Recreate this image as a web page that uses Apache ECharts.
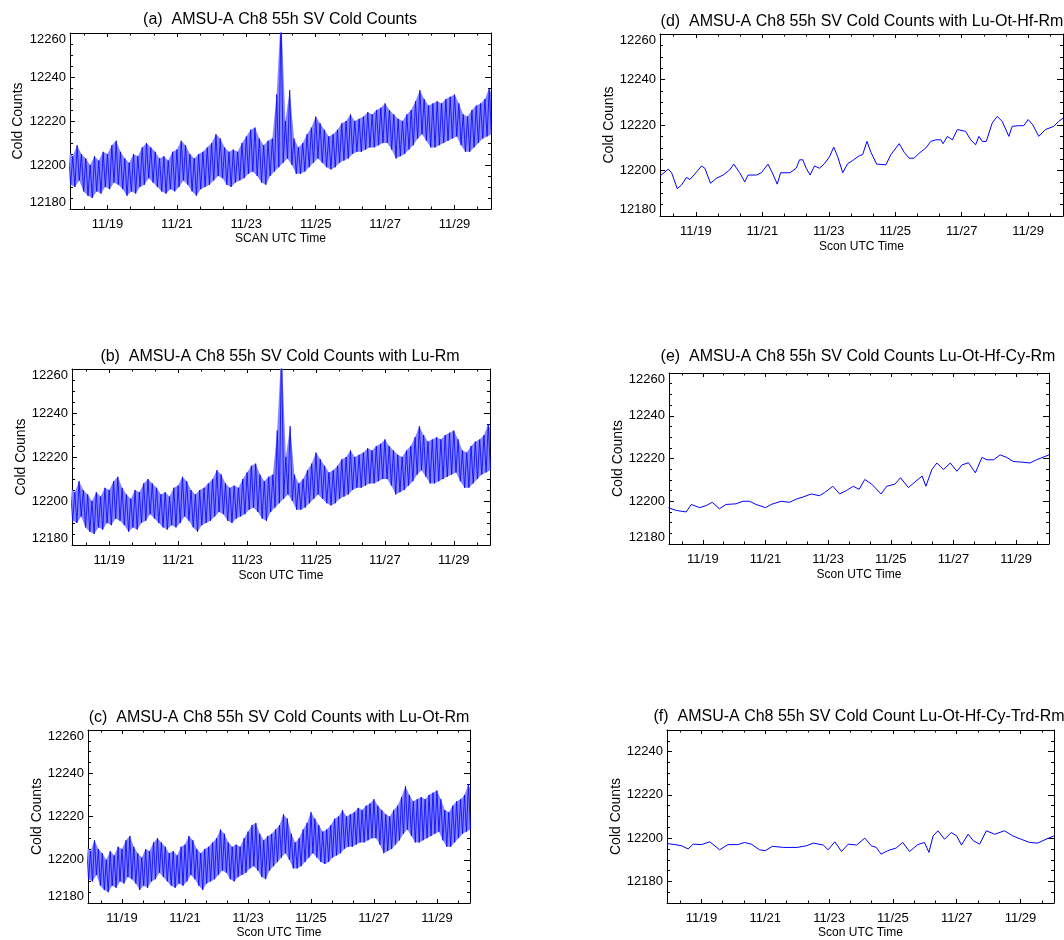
<!DOCTYPE html>
<html><head><meta charset="utf-8">
<script src="https://cdn.jsdelivr.net/npm/echarts@6/dist/echarts.min.js"></script>
<style>html,body{margin:0;padding:0;background:#fff}#c{width:1064px;height:940px}</style>
</head><body><div id="c"></div>
<script>
// ---------- tick labels ----------
const xTickDays = [19, 21, 23, 25, 27, 29];
const xTickLabels = ['11/19', '11/21', '11/23', '11/25', '11/27', '11/29'];
const xMinorDays = [18 + 1/3, 19 + 2/3, 20 + 1/3, 21 + 2/3, 22 + 1/3, 23 + 2/3, 24 + 1/3, 25 + 2/3, 26 + 1/3, 27 + 2/3, 28 + 1/3, 29 + 2/3];
const yTicks = [12180, 12200, 12220, 12240, 12260];
const yTicksF = [12180, 12200, 12220, 12240];

// ---------- raw counts (a)/(b)/(c): upper / lower swing of each 3-hour sample (day of November) ----------
const rawStartDay = 17.875;   // first sample
const rawStepDay = 0.125;     // 3-hour sampling
const aHi = [12206,12204,12209,12205,12203,12200,12204,12202,12206,12205,
  12209,12211,12206,12203,12201,12205,12204,12208,12210,12208,
  12206,12203,12204,12202,12206,12207,12211,12209,12205,12203,
  12205,12206,12208,12210,12214,12212,12208,12206,12207,12206,
  12210,12213,12216,12217,12212,12209,12211,12212,12232,12270,
  12220,12234,12212,12208,12210,12214,12217,12222,12219,12216,
  12213,12214,12216,12219,12220,12223,12220,12221,12222,12224,
  12223,12225,12226,12228,12225,12223,12221,12220,12223,12225,
  12229,12234,12230,12227,12228,12229,12228,12230,12231,12232,
  12228,12223,12222,12225,12227,12228,12230,12235,12230];
const aLo = [12191,12190,12193,12188,12186,12185,12188,12187,12190,12189,
  12192,12191,12189,12186,12188,12187,12190,12191,12194,12192,
  12190,12188,12187,12189,12188,12190,12193,12191,12188,12186,
  12189,12190,12191,12193,12195,12194,12191,12190,12192,12193,
  12194,12196,12197,12195,12192,12191,12195,12197,12199,12201,
  12203,12200,12196,12196,12197,12199,12201,12203,12201,12199,
  12198,12199,12201,12202,12203,12205,12206,12206,12207,12208,
  12208,12209,12210,12210,12207,12203,12204,12205,12207,12209,
  12212,12214,12211,12208,12208,12209,12210,12211,12212,12213,
  12209,12206,12206,12208,12210,12212,12213,12214,12214];
// (b) Lu-Rm is visually identical to (a)
const bHi = aHi;
const bLo = aLo;
// (c) outliers removed around 11/24
const cHi = [12206,12204,12209,12205,12203,12200,12204,12202,12206,12205,
  12209,12211,12206,12203,12201,12205,12204,12208,12210,12208,
  12206,12203,12204,12202,12206,12207,12211,12209,12205,12203,
  12205,12206,12208,12210,12214,12212,12208,12206,12207,12206,
  12210,12213,12216,12217,12212,12209,12211,12212,12214,12216,
  12221,12219,12212,12208,12210,12214,12217,12222,12219,12216,
  12213,12214,12216,12219,12220,12223,12220,12221,12222,12224,
  12223,12225,12226,12228,12225,12223,12221,12220,12223,12225,
  12229,12234,12230,12227,12228,12229,12228,12230,12231,12232,
  12228,12223,12222,12225,12227,12228,12230,12235,12230];
const cLo = aLo;

// ---------- (d) Lu-Ot-Hf-Rm ----------
const dDays = [17.92,18.17,18.27,18.44,18.57,18.72,18.82,19.0,19.17,19.27,19.44,19.62,19.82,20.02,20.14,20.32,20.47,20.57,20.82,20.97,
  21.17,21.3,21.45,21.55,21.83,22.02,22.12,22.22,22.32,22.44,22.57,22.72,22.87,23.02,23.15,23.27,23.42,23.57,23.72,23.92,
  24.02,24.15,24.27,24.44,24.72,24.87,25.12,25.27,25.42,25.57,25.72,25.92,26.07,26.22,26.37,26.44,26.57,26.72,26.87,27.12,
  27.27,27.42,27.52,27.62,27.74,27.92,28.07,28.22,28.42,28.52,28.72,28.87,29.0,29.14,29.32,29.52,29.77,29.92,30.05];
const dVals = [12197.6,12200.6,12199,12192,12193.7,12197,12196,12199,12202,12201,12194.4,12196.6,12198,12200.3,12202.8,12199,12195,12198,12198,12199,
  12202.8,12199,12194,12199,12199,12201,12204.7,12204.7,12201,12198,12202,12201,12203,12206,12210.3,12206,12199,12203,12204.4,12206.5,
  12207,12212.8,12208,12202.8,12202.5,12207,12211.8,12208,12205.4,12205.4,12207.6,12209.9,12212.8,12213.5,12213.5,12211.8,12215,12213.5,12218,12217.2,
  12213.5,12211.3,12215,12212.8,12212.8,12220.9,12223.8,12221.6,12215,12219.4,12219.7,12219.7,12222.4,12220.1,12215,12218,12219.4,12221.6,12223];

// ---------- (e) Lu-Ot-Hf-Cy-Rm ----------
const eDays = [17.9,18.15,18.47,18.63,18.9,19.11,19.3,19.53,19.74,20.06,20.28,20.49,20.7,21.0,21.18,21.5,21.77,21.98,22.2,22.46,
  22.72,22.88,23.15,23.37,23.58,23.8,23.99,24.17,24.39,24.69,24.87,25.13,25.31,25.56,25.77,26.0,26.12,26.31,26.47,26.68,
  26.9,27.11,27.27,27.48,27.7,27.91,28.07,28.28,28.49,28.7,28.91,29.18,29.44,29.65,30.05];
const eVals = [12197,12195.7,12195,12198.5,12197,12198,12199.5,12196.5,12198.5,12198.8,12200,12200,12198.5,12197,12198.5,12200,12199.5,12201,12202,12203.4,
  12202.6,12204,12207,12203.4,12205,12207,12205.6,12210.2,12208,12203.4,12207,12208,12211,12206.4,12209,12211.8,12207,12214.8,12217.9,12214.8,
  12217.9,12214,12217,12218,12213.3,12220.5,12219.4,12219.4,12221.7,12220.5,12218.6,12218.3,12217.9,12219.4,12221.7];

// ---------- (f) Lu-Ot-Hf-Cy-Trd-Rm ----------
const fDays = [17.92,18.17,18.37,18.58,18.74,19.0,19.26,19.57,19.83,20.14,20.35,20.56,20.82,21.0,21.22,21.58,22.0,22.3,22.51,22.82,
  22.97,23.18,23.39,23.6,23.86,24.12,24.32,24.48,24.63,24.84,25.1,25.31,25.52,25.78,25.99,26.13,26.26,26.41,26.62,26.83,
  27.0,27.15,27.36,27.52,27.72,27.93,28.19,28.5,28.76,29.02,29.28,29.54,29.8,30.05];
const fVals = [12197.5,12197,12196.5,12195,12197.2,12197,12198.3,12194.6,12197,12197,12198,12197.2,12194.6,12194.2,12196.2,12195.7,12195.7,12196.5,12197.7,12196.8,
  12194.6,12198.3,12193.8,12197.2,12196.8,12200,12196.5,12195.7,12192.6,12194.2,12195.4,12198,12193.8,12197,12198,12193.4,12201,12203.4,12199.5,12202.6,
  12201,12196.8,12201.8,12198.8,12197.2,12203.4,12201.8,12203.4,12201,12199.5,12198,12197.7,12199.5,12201];

// ---------- helpers ----------
function swing(hi, lo) {
  const out = [];
  for (let i = 0; i < hi.length; i++) {
    const t = rawStartDay + rawStepDay * i;
    out.push([t, hi[i]]);
    out.push([t + rawStepDay / 2, lo[i]]);
  }
  return out;
}
function pairs(days, vals) { return days.map((d, i) => [d, vals[i]]); }

const FONT = 'Liberation Sans';
const XMIN = 17.92, XMAX = 30.05;

const panels = [
  { title: '(a)  AMSU-A Ch8 55h SV Cold Counts', tx: 280, ty: 20, xName: 'SCAN UTC Time',
    grid: { left: 70, top: 33, width: 421, height: 176 }, yMin: 12180, yMax: 12260, yt: yTicks, edge: true,
    yGap: 45, xGap: 24, hi: aHi, lo: aLo },
  { title: '(b)  AMSU-A Ch8 55h SV Cold Counts with Lu-Rm', tx: 280, ty: 357, xName: 'Scon UTC Time',
    grid: { left: 72, top: 369, width: 418, height: 176 }, yMin: 12180, yMax: 12260, yt: yTicks, edge: true,
    yGap: 44, xGap: 25, hi: bHi, lo: bLo },
  { title: '(c)  AMSU-A Ch8 55h SV Cold Counts with Lu-Ot-Rm', tx: 279, ty: 718, xName: 'Scon UTC Time',
    grid: { left: 88, top: 730, width: 382, height: 173 }, yMin: 12180, yMax: 12260, yt: yTicks, edge: true,
    yGap: 41, xGap: 24, hi: cHi, lo: cLo },
  { title: '(d)  AMSU-A Ch8 55h SV Cold Counts with Lu-Ot-Hf-Rm', tx: 862, ty: 22, xName: 'Scon UTC Time',
    grid: { left: 660, top: 34, width: 403, height: 182 }, yMin: 12180, yMax: 12260, yt: yTicks, edge: true,
    yGap: 41, xGap: 25, days: dDays, vals: dVals },
  { title: '(e)  AMSU-A Ch8 55h SV Cold Counts Lu-Ot-Hf-Cy-Rm', tx: 858, ty: 357, xName: 'Scon UTC Time',
    grid: { left: 669, top: 373, width: 380, height: 171 }, yMin: 12180, yMax: 12260, yt: yTicks, edge: true,
    yGap: 38, xGap: 25, days: eDays, vals: eVals },
  { title: '(f)  AMSU-A Ch8 55h SV Cold Count Lu-Ot-Hf-Cy-Trd-Rm', tx: 859, ty: 717, xName: 'Scon UTC Time',
    grid: { left: 667, top: 730, width: 387, height: 174 }, yMin: 12170, yMax: 12250, yt: yTicksF, edge: false,
    yGap: 39, xGap: 24, days: fDays, vals: fVals }
];

const black = { color: '#000', width: 1 };
const grids = [], xAxes = [], yAxes = [], series = [], graphics = [];

panels.forEach((p, i) => {
  grids.push(Object.assign({ containLabel: false }, p.grid));
  const yMinor = [];
  for (let v = p.yMin; v <= p.yMax; v += 5) if (p.yt.indexOf(v) < 0) yMinor.push(v);
  const xb = { gridIndex: i, type: 'value', min: XMIN, max: XMAX, splitLine: { show: false }, silent: true };
  xAxes.push(Object.assign({}, xb, {
    position: 'bottom',
    axisLine: { show: true, onZero: false, lineStyle: black },
    axisTick: { show: true, inside: true, length: 4, customValues: xTickDays, lineStyle: black },
    axisLabel: { show: true, customValues: xTickDays, margin: 9, color: '#000', fontSize: 13, fontFamily: FONT,
      formatter: v => { const k = xTickDays.indexOf(Math.round(v)); return k >= 0 ? xTickLabels[k] : ''; } },
    name: p.xName, nameLocation: 'middle', nameGap: p.xGap,
    nameTextStyle: { color: '#000', fontSize: 12, fontFamily: FONT }
  }));
  xAxes.push(Object.assign({}, xb, { position: 'bottom', axisLine: { show: false },
    axisTick: { show: true, inside: true, length: 2.5, customValues: xMinorDays, lineStyle: black }, axisLabel: { show: false } }));
  xAxes.push(Object.assign({}, xb, { position: 'top', axisLine: { show: true, onZero: false, lineStyle: black },
    axisTick: { show: true, inside: true, length: 4, customValues: xTickDays, lineStyle: black }, axisLabel: { show: false } }));
  xAxes.push(Object.assign({}, xb, { position: 'top', axisLine: { show: false },
    axisTick: { show: true, inside: true, length: 2.5, customValues: xMinorDays, lineStyle: black }, axisLabel: { show: false } }));

  const yb = { gridIndex: i, type: 'value', min: p.yMin, max: p.yMax, splitLine: { show: false }, silent: true };
  const lab = { show: true, customValues: p.yt, margin: 4, color: '#000', fontSize: 13, fontFamily: FONT, formatter: v => String(v) };
  if (p.edge) { lab.verticalAlignMinLabel = 'bottom'; lab.verticalAlignMaxLabel = 'top'; }
  yAxes.push(Object.assign({}, yb, {
    position: 'left',
    axisLine: { show: true, onZero: false, lineStyle: black },
    axisTick: { show: true, inside: true, length: 5, customValues: p.yt, lineStyle: black },
    axisLabel: lab,
    name: 'Cold Counts', nameLocation: 'middle', nameGap: p.yGap,
    nameTextStyle: { color: '#000', fontSize: 14, fontFamily: FONT }
  }));
  yAxes.push(Object.assign({}, yb, { position: 'left', axisLine: { show: false },
    axisTick: { show: true, inside: true, length: 3, customValues: yMinor, lineStyle: black }, axisLabel: { show: false } }));
  yAxes.push(Object.assign({}, yb, { position: 'right', axisLine: { show: true, onZero: false, lineStyle: black },
    axisTick: { show: true, inside: true, length: 6, customValues: p.yt, lineStyle: black }, axisLabel: { show: false } }));
  yAxes.push(Object.assign({}, yb, { position: 'right', axisLine: { show: false },
    axisTick: { show: true, inside: true, length: 3, customValues: yMinor, lineStyle: black }, axisLabel: { show: false } }));

  if (p.hi) {
    const hi = p.hi, lo = p.lo;
    // light envelope of the scan-to-scan swing
    series.push({
      type: 'custom', xAxisIndex: 4 * i, yAxisIndex: 4 * i, silent: true, animation: false, z: 1,
      data: [[rawStartDay, hi[0]]], encode: { x: 0, y: 1 },
      renderItem: (params, api) => {
        const pts = [];
        for (let k = 0; k < hi.length; k++) pts.push(api.coord([rawStartDay + rawStepDay * k, hi[k]]));
        for (let k = lo.length - 1; k >= 0; k--) pts.push(api.coord([rawStartDay + rawStepDay * k + rawStepDay / 2, lo[k]]));
        const cs = params.coordSys;
        return { type: 'group', clipPath: { type: 'rect', shape: { x: cs.x, y: cs.y, width: cs.width, height: cs.height } },
          children: [{ type: 'polygon', shape: { points: pts }, style: { fill: '#8585ff', stroke: null } }] };
      }
    });
    series.push({
      type: 'line', xAxisIndex: 4 * i, yAxisIndex: 4 * i, data: swing(hi, lo), z: 2,
      showSymbol: false, symbol: 'none', clip: true, silent: true, animation: false,
      lineStyle: { color: '#0000ff', width: 0.8 }
    });
  } else {
    series.push({
      type: 'line', xAxisIndex: 4 * i, yAxisIndex: 4 * i, data: pairs(p.days, p.vals),
      showSymbol: false, symbol: 'none', clip: true, silent: true, animation: false,
      lineStyle: { color: '#0000ff', width: 1 }
    });
  }

  graphics.push({ type: 'text', x: p.tx, y: p.ty, silent: true,
    style: { text: p.title, fill: '#000', font: '16px "' + FONT + '"', align: 'center', verticalAlign: 'middle' } });
});

const chart = echarts.init(document.getElementById('c'), null, { renderer: 'canvas' });
chart.setOption({
  backgroundColor: '#fff',
  animation: false,
  grid: grids, xAxis: xAxes, yAxis: yAxes, series: series, graphic: graphics
});
</script></body></html>
